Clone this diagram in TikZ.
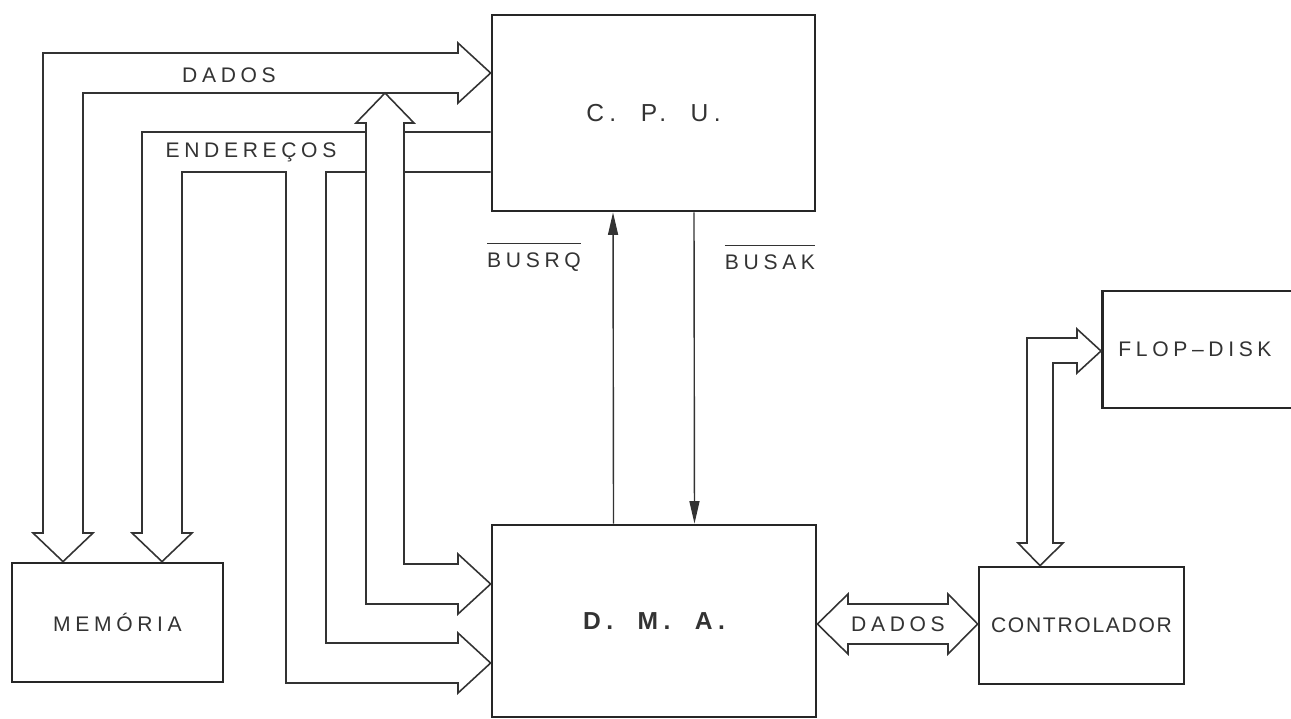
\documentclass[tikz,border=0pt]{standalone}
\usepackage{fontspec}
\setmainfont{Liberation Sans}
\newfontfamily\rotulo[LetterSpace=22]{Liberation Sans}
\newfontfamily\rotulom[LetterSpace=8]{Liberation Sans}
\usetikzlibrary{arrows.meta,calc}
\newcommand{\barrado}[1]{\vbox{\hrule height 0.7pt\kern5pt\hbox{#1}}}

\begin{document}
\begin{tikzpicture}[>=Latex,x=0.02cm,y=-0.02cm]
  \tikzstyle{box}=[draw=black!85,line width=1.6pt,inner sep=0pt,font=\rotulo\fontsize{12}{14}\selectfont,text=black!80]
  \tikzstyle{bus}=[draw=black!80,line width=0.9pt,line join=miter]
  \tikzstyle{sinal}=[draw=black!80,line width=0.8pt,-{Triangle[length=0.45cm,width=0.2cm]}]
  \tikzstyle{lbl}=[inner sep=0pt,font=\rotulo\fontsize{12}{14}\selectfont,text=black!80]
  \path[use as bounding box,fill=white] (0,0) rectangle (1291,718);
  \node[box,minimum width=6.46cm,minimum height=3.92cm] (cpu) at (653.5,113) {\fontsize{14}{16}\selectfont C.\ \ P.\ \ U.};
  \node[box,minimum width=6.48cm,minimum height=3.84cm] (dma) at (654,621) {\fontsize{14}{16}\selectfont\bfseries D.\ \ M.\ \ A.};
  \node[box,minimum width=4.22cm,minimum height=2.38cm] (mem) at (117.5,622.5) {MEMÓRIA};
  \node[box,minimum width=4.1cm,minimum height=2.34cm,font=\rotulom\fontsize{12}{14}\selectfont] (ctrl) at (1081.5,625.5) {CONTROLADOR};
  \node[box,anchor=west,minimum height=2.34cm,text width=3.9cm,inner xsep=0.32cm,align=left] (flop) at (1101,349.5) {FLOP\textendash DISK};
  \coordinate (jd) at (385,93);
  \draw[bus] (cpu.west |- 0,73) -- (458,43) -- (458,53) -- (43,53) -- (43,533) -- (33,533) -- (mem.north -| 63,0) -- (93,533) -- (83,533) -- (83,93) -- (458,93) -- (458,103) -- cycle;
  \draw[bus] (cpu.west |- 0,132) -- (142,132) -- (142,533) -- (132,533) -- (mem.north -| 162,0) -- (192,533) -- (182,533) -- (182,172) -- (286,172) -- (286,683) -- (458,683) -- (458,693) -- (dma.west |- 0,663) -- (458,633) -- (458,643) -- (326,643) -- (326,172) -- (cpu.west |- 0,172);
  \draw[bus,fill=white] (jd) -- (414,123) -- (404,123) -- (404,564) -- (458,564) -- (458,554) -- (dma.west |- 0,584) -- (458,614) -- (458,604) -- (366,604) -- (366,123) -- (356,123) -- cycle;
  \draw[bus] (dma.east |- 0,624) -- (848,594) -- (848,604) -- (948,604) -- (948,594) -- (ctrl.west |- 0,624) -- (948,654) -- (948,644) -- (848,644) -- (848,654) -- cycle;
  \draw[bus] (flop.west |- 0,351) -- (1077,329) -- (1077,338) -- (1027,338) -- (1027,543) -- (1018,543) -- (ctrl.north -| 1040,0) -- (1063,543) -- (1053,543) -- (1053,363) -- (1077,363) -- (1077,373) -- cycle;
  \draw[sinal] ([xshift=-0.81cm]dma.north) -- ([xshift=-0.81cm]cpu.south);
  \draw[sinal] ([xshift=0.81cm]cpu.south) -- ([xshift=0.81cm]dma.north);
  \node[lbl] (dados) at (229,75) {DADOS};
  \node[lbl] (end) at (251,152) {ENDEREÇOS};
  \node[lbl] (dados2) at (898,624) {DADOS};
  \node[lbl] (busrq) at (534,257) {\barrado{BUSRQ}};
  \node[lbl] (busak) at (770,257) {\barrado{BUSAK}};
\end{tikzpicture}
\end{document}
